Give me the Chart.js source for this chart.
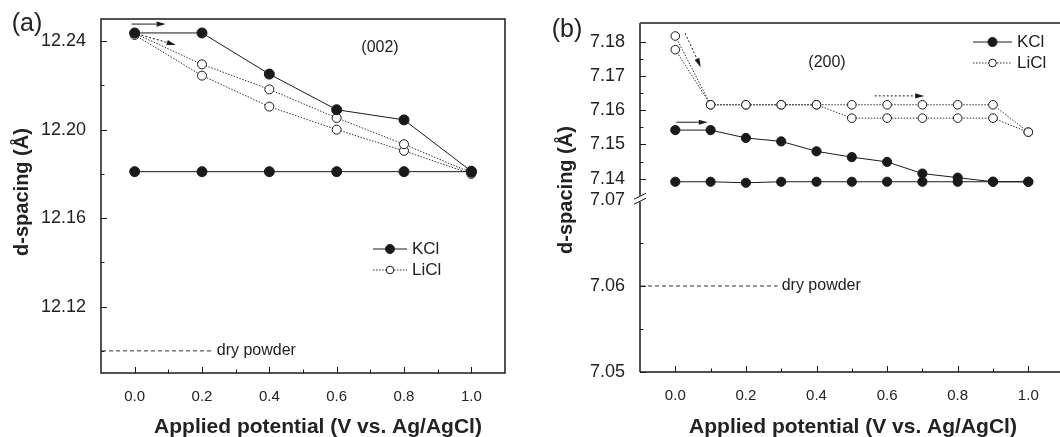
<!DOCTYPE html>
<html>
<head>
<meta charset="utf-8">
<script src="https://cdn.jsdelivr.net/npm/chart.js@4.4.1/dist/chart.umd.min.js"></script>
<style>
  html, body { margin: 0; padding: 0; background: #fff; overflow: hidden; }
  body { width: 1060px; height: 437px; position: relative; }
  .panel { position: absolute; top: 0; height: 437px; }
  #wrapA { left: 0; width: 530px; }
  #wrapB { left: 530px; width: 540px; }
</style>
</head>
<body>
<div class="panel" id="wrapA"><canvas id="chartA" width="530" height="437"></canvas></div>
<div class="panel" id="wrapB"><canvas id="chartB" width="540" height="437"></canvas></div>
<script>
// panel (a) - (002) reflection
const potentialA = [0, 0.2, 0.4, 0.6, 0.8, 1.0];
const kclA_down = [12.2437, 12.2437, 12.2251, 12.2090, 12.2044, 12.1812];
const kclA_flat = [12.1810, 12.1810, 12.1810, 12.1810, 12.1810, 12.1810];
const liclA_1 = [12.2435, 12.2295, 12.2182, 12.2053, 12.1934, 12.1805];
const liclA_2 = [12.2428, 12.2244, 12.2104, 12.2000, 12.1904, 12.1800];
const dryA = 12.10;

// panel (b) - (200) reflection
const potentialB = [0, 0.1, 0.2, 0.3, 0.4, 0.5, 0.6, 0.7, 0.8, 0.9, 1.0];
const kclB_down = [7.1542, 7.1542, 7.1519, 7.1509, 7.1480, 7.1463, 7.1449, 7.1415, 7.1403, 7.1391, 7.1391];
const kclB_flat = [7.1391, 7.1391, 7.1388, 7.1391, 7.1391, 7.1391, 7.1391, 7.1391, 7.1391, 7.1391, 7.1391];
const liclB_1 = [7.1817, 7.1616, 7.1616, 7.1616, 7.1616, 7.1616, 7.1616, 7.1616, 7.1616, 7.1616, 7.1536];
const liclB_2 = [7.1777, 7.1616, 7.1616, 7.1616, 7.1616, 7.1577, 7.1577, 7.1577, 7.1577, 7.1577, 7.1536];
const dryB = 7.06;

// ticks
const xTicks = [0, 0.1, 0.2, 0.3, 0.4, 0.5, 0.6, 0.7, 0.8, 0.9, 1.0];
const xLabels = [0, 0.2, 0.4, 0.6, 0.8, 1.0];
const yTicksA = [12.10, 12.12, 12.14, 12.16, 12.18, 12.20, 12.22, 12.24];
const yLabelsA = [12.12, 12.16, 12.20, 12.24];
const yTicksB = [7.05, 7.055, 7.06, 7.065, 7.07, 7.14, 7.145, 7.15, 7.155, 7.16, 7.165, 7.17, 7.175, 7.18];
const yLabelsB = [7.05, 7.06, 7.07, 7.14, 7.15, 7.16, 7.17, 7.18];

// arrows (data units)
const arrowsA = [
  { from: [-0.009, 12.2477], to: [0.092, 12.2477], dotted: false },
  { from: [0.02, 12.2427], to: [0.122, 12.2383], dotted: true }
];
const arrowsB = [
  { from: [0.028, 7.1825], to: [0.072, 7.1726], dotted: true },
  { from: [0.003, 7.1565], to: [0.092, 7.1565], dotted: false },
  { from: [0.565, 7.1642], to: [0.705, 7.1642], dotted: true }
];

const FONT = '"Liberation Sans", Arial, Helvetica, sans-serif';
const INK = '#1a1a1a';
Chart.defaults.font.family = FONT;
Chart.defaults.color = '#222';

// broken y axis for panel (b): upper part on top half, lower part below the break
const upperSeg = [7.1345, 7.1855];
const lowerSeg = [7.05, 7.07];
const upperFrac = 0.5, lowerFrac = 0.507;
const LinearBase = Chart.LinearScale || Chart.registry.getScale('linear');
class BrokenScale extends LinearBase {
  getPixelForValue(v) {
    const h = this.bottom - this.top;
    if (v > 7.1) {
      return this.top + (upperSeg[1] - v) / (upperSeg[1] - upperSeg[0]) * h * upperFrac;
    }
    return this.bottom - (v - lowerSeg[0]) / (lowerSeg[1] - lowerSeg[0]) * h * (1 - lowerFrac);
  }
  getValueForPixel(p) {
    const h = this.bottom - this.top;
    const f = (p - this.top) / h;
    if (f <= upperFrac) return upperSeg[1] - f / upperFrac * (upperSeg[1] - upperSeg[0]);
    return lowerSeg[0] + (this.bottom - p) / (h * (1 - lowerFrac)) * (lowerSeg[1] - lowerSeg[0]);
  }
}
BrokenScale.id = 'broken';
BrokenScale.defaults = LinearBase.defaults;
Chart.register(BrokenScale);

const pts = (xs, ys) => xs.map((x, i) => ({ x, y: ys[i] }));
const isIn = (list, v) => list.some(l => Math.abs(l - v) < 1e-6);

function kclSet(xs, ys, r) {
  return {
    data: pts(xs, ys), borderColor: INK, borderWidth: 1, tension: 0,
    pointRadius: r, pointBackgroundColor: INK, pointBorderColor: INK, pointBorderWidth: 1
  };
}
function liclSet(xs, ys, r) {
  return {
    data: pts(xs, ys), borderColor: '#333', borderWidth: 1, borderDash: [1.5, 1.5], tension: 0,
    pointRadius: r, pointBackgroundColor: '#fff', pointBorderColor: INK, pointBorderWidth: 1
  };
}

function drawArrow(ctx, x1, y1, x2, y2, dotted) {
  const ang = Math.atan2(y2 - y1, x2 - x1);
  const hl = 9, hw = 2.6;
  const bx = x2 - hl * Math.cos(ang), by = y2 - hl * Math.sin(ang);
  ctx.save();
  ctx.strokeStyle = INK;
  ctx.fillStyle = INK;
  ctx.lineWidth = 1;
  ctx.setLineDash(dotted ? [2, 2] : []);
  ctx.beginPath();
  ctx.moveTo(x1, y1);
  ctx.lineTo(bx, by);
  ctx.stroke();
  ctx.setLineDash([]);
  ctx.beginPath();
  ctx.moveTo(x2, y2);
  ctx.lineTo(bx + hw * Math.sin(ang), by - hw * Math.cos(ang));
  ctx.lineTo(bx - hw * Math.sin(ang), by + hw * Math.cos(ang));
  ctx.closePath();
  ctx.fill();
  ctx.restore();
}

function label(ctx, s, x, y, size, opts = {}) {
  ctx.save();
  ctx.fillStyle = '#222';
  ctx.font = (opts.bold ? 'bold ' : '') + size + 'px ' + FONT;
  ctx.textAlign = opts.align || 'center';
  ctx.textBaseline = 'middle';
  ctx.translate(x, y);
  if (opts.rotate) ctx.rotate(opts.rotate);
  ctx.fillText(s, 0, 0);
  ctx.restore();
}

function legendRow(ctx, x0, x1, y, filled, text) {
  const xm = (x0 + x1) / 2;
  ctx.save();
  ctx.strokeStyle = filled ? INK : '#333';
  ctx.lineWidth = 1;
  ctx.setLineDash(filled ? [] : [1.5, 1.5]);
  ctx.beginPath();
  ctx.moveTo(x0, y);
  ctx.lineTo(x1, y);
  ctx.stroke();
  ctx.setLineDash([]);
  ctx.beginPath();
  ctx.arc(xm, y, filled ? 4.5 : 3.8, 0, Math.PI * 2);
  ctx.fillStyle = filled ? INK : '#fff';
  ctx.fill();
  ctx.strokeStyle = INK;
  ctx.stroke();
  ctx.restore();
  label(ctx, text, x1 + 5, y, 17, { align: 'left' });
}

function decor(spec) {
  return {
    id: 'decor',
    afterDraw(chart) {
      const { ctx, chartArea: a, scales } = chart;
      const xs = scales.x, ys = scales.y;
      ctx.save();
      // frame
      ctx.strokeStyle = INK;
      ctx.lineWidth = 1.5;
      if (spec.broken) {
        const yb = (ys.getPixelForValue(upperSeg[0]) + ys.getPixelForValue(lowerSeg[1])) / 2;
        ctx.beginPath();
        ctx.moveTo(a.left, a.bottom); ctx.lineTo(a.right, a.bottom);
        ctx.moveTo(a.right, a.bottom); ctx.lineTo(a.right, a.top);
        ctx.moveTo(a.left, a.bottom); ctx.lineTo(a.left, yb + 3);
        ctx.moveTo(a.left, yb - 3); ctx.lineTo(a.left, a.top);
        ctx.stroke();
        ctx.strokeStyle = '#555';
        ctx.lineWidth = 2;
        ctx.beginPath();
        ctx.moveTo(a.left, a.top); ctx.lineTo(a.right, a.top);
        ctx.stroke();
        // break marks
        ctx.strokeStyle = INK;
        ctx.lineWidth = 1;
        [-2.5, 2.5].forEach(d => {
          ctx.beginPath();
          ctx.moveTo(a.left - 6, yb + d + 3);
          ctx.lineTo(a.left + 6, yb + d - 3);
          ctx.stroke();
        });
      } else {
        ctx.strokeRect(a.left, a.top, a.right - a.left, a.bottom - a.top);
      }
      // inward ticks
      ctx.strokeStyle = INK;
      ctx.lineWidth = 1;
      ctx.beginPath();
      xs.ticks.forEach(t => {
        const p = Math.round(xs.getPixelForValue(t.value)) + 0.5;
        const len = t.label !== '' ? 6 : 3.5;
        ctx.moveTo(p, a.bottom); ctx.lineTo(p, a.bottom - len);
      });
      ys.ticks.forEach(t => {
        if (spec.broken && Math.abs(t.value - lowerSeg[1]) < 1e-6) return;
        const p = Math.round(ys.getPixelForValue(t.value)) + 0.5;
        const len = t.label !== '' ? 6 : 3.5;
        ctx.moveTo(a.left, p); ctx.lineTo(a.left + len, p);
      });
      ctx.stroke();
      // dry powder reference
      const yd = ys.getPixelForValue(spec.dry.value);
      const xd = xs.getPixelForValue(spec.dry.xEnd);
      ctx.setLineDash([4, 3]);
      ctx.strokeStyle = '#333';
      ctx.beginPath();
      ctx.moveTo(a.left + 1, yd); ctx.lineTo(xd, yd);
      ctx.stroke();
      ctx.setLineDash([]);
      ctx.restore();
      label(ctx, 'dry powder', xd + 4, yd, 16, { align: 'left' });
      // arrows
      spec.arrows.forEach(ar => drawArrow(ctx,
        xs.getPixelForValue(ar.from[0]), ys.getPixelForValue(ar.from[1]),
        xs.getPixelForValue(ar.to[0]), ys.getPixelForValue(ar.to[1]), ar.dotted));
      // legend
      legendRow(ctx, spec.legend.x0, spec.legend.x1, spec.legend.y[0], true, 'KCl');
      legendRow(ctx, spec.legend.x0, spec.legend.x1, spec.legend.y[1], false, 'LiCl');
      // texts
      label(ctx, spec.panel.text, spec.panel.x, spec.panel.y, 25);
      label(ctx, spec.tag.text, spec.tag.x, spec.tag.y, 16);
      label(ctx, 'd-spacing (\u00C5)', spec.yTitle.x, spec.yTitle.y, 20, { bold: true, rotate: -Math.PI / 2 });
      label(ctx, 'Applied potential (V vs. Ag/AgCl)', spec.xTitle.x, spec.xTitle.y, 21, { bold: true });
    }
  };
}

function makeChart(id, datasets, y, pad, yWidth, xHeight, spec) {
  return new Chart(document.getElementById(id), {
    type: 'line',
    data: { datasets },
    options: {
      responsive: false,
      animation: false,
      events: [],
      layout: { padding: pad, autoPadding: false },
      plugins: { legend: { display: false }, tooltip: { enabled: false } },
      scales: {
        x: {
          type: 'linear', min: -0.1, max: 1.1,
          afterBuildTicks: s => { s.ticks = xTicks.map(v => ({ value: v })); },
          afterFit: s => { s.height = xHeight; },
          grid: { display: false }, border: { display: false },
          ticks: {
            autoSkip: false, maxRotation: 0, padding: 7, color: '#222',
            font: { size: 15 },
            callback: v => isIn(xLabels, v) ? v.toFixed(1) : ''
          }
        },
        y: Object.assign({
          afterFit: s => { s.width = yWidth; },
          grid: { display: false }, border: { display: false },
          ticks: {
            autoSkip: false, padding: 7, color: '#222',
            font: { size: 18 },
            callback: v => isIn(y.labels, v) ? v.toFixed(2) : ''
          },
          afterBuildTicks: s => { s.ticks = y.ticks.map(v => ({ value: v })); }
        }, y.scale)
      }
    },
    plugins: [decor(spec)]
  });
}

makeChart('chartA', [
  kclSet(potentialA, kclA_down, 5),
  kclSet(potentialA, kclA_flat, 5),
  liclSet(potentialA, liclA_1, 4.5),
  liclSet(potentialA, liclA_2, 4.5)
], { ticks: yTicksA, labels: yLabelsA, scale: { type: 'linear', min: 12.09, max: 12.25 } },
  { left: 0, right: 25, top: 19, bottom: 0 }, 101, 64,
  {
    broken: false,
    dry: { value: dryA, xEnd: 0.232 },
    arrows: arrowsA,
    legend: { x0: 373, x1: 407, y: [249, 270] },
    panel: { text: '(a)', x: 27, y: 24 },
    tag: { text: '(002)', x: 380, y: 48 },
    yTitle: { x: 22, y: 192 },
    xTitle: { x: 318, y: 427 }
  });

makeChart('chartB', [
  kclSet(potentialB, kclB_down, 4.6),
  kclSet(potentialB, kclB_flat, 4.6),
  liclSet(potentialB, liclB_1, 4.3),
  liclSet(potentialB, liclB_2, 4.3)
], { ticks: yTicksB, labels: yLabelsB, scale: { type: 'broken', min: 7.05, max: 7.1855 } },
  { left: 0, right: 6.4, top: 23, bottom: 0 }, 110, 65,
  {
    broken: true,
    dry: { value: dryB, xEnd: 0.29 },
    arrows: arrowsB,
    legend: { x0: 443, x1: 482, y: [42, 63] },
    panel: { text: '(b)', x: 37, y: 30 },
    tag: { text: '(200)', x: 297, y: 63 },
    yTitle: { x: 36, y: 190 },
    xTitle: { x: 323, y: 427 }
  });
</script>
</body>
</html>
